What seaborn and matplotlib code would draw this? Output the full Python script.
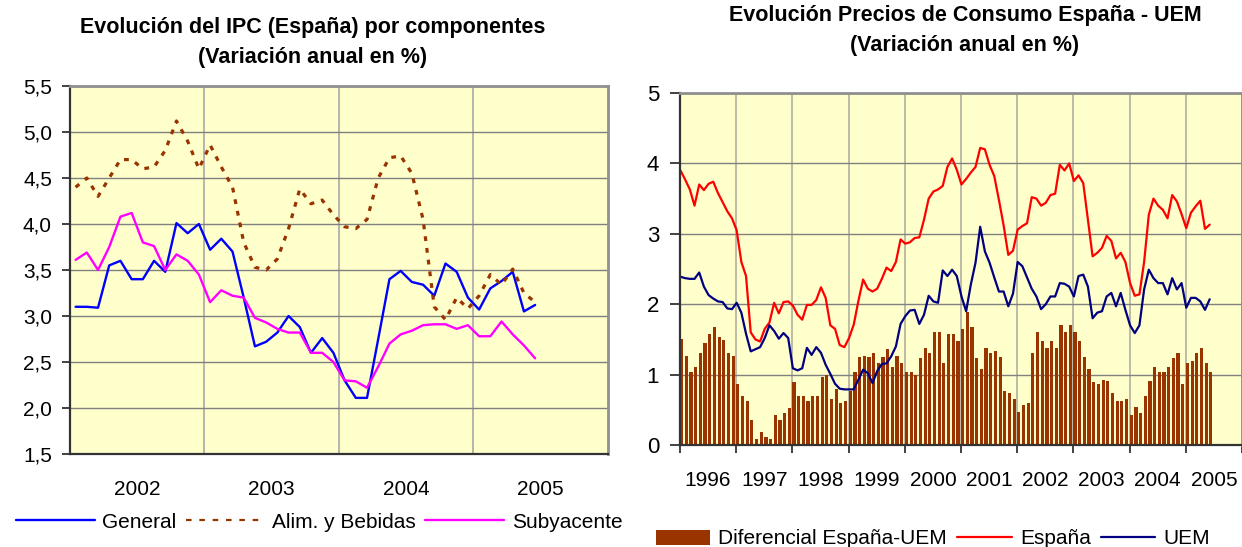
import matplotlib
matplotlib.use("Agg")
import matplotlib.pyplot as plt
import numpy as np
import seaborn as sns
from matplotlib.lines import Line2D
from matplotlib.patches import Patch

sns.set_style("white")
plt.rcParams['font.family'] = ['Liberation Sans', 'DejaVu Sans']
plt.rcParams['text.color'] = 'black'
plt.rcParams['xtick.color'] = 'black'
plt.rcParams['ytick.color'] = 'black'

# ---- left panel: IPC by components, monthly ----
ipc_years = ["2002", "2003", "2004", "2005"]
general = [3.10, 3.10, 3.09, 3.55, 3.60, 3.40, 3.40, 3.60, 3.48, 4.01, 3.90, 4.00,
           3.72, 3.84, 3.70, 3.20, 2.67, 2.72, 2.82, 3.00, 2.88, 2.60, 2.76, 2.60,
           2.30, 2.11, 2.11, 2.75, 3.40, 3.49, 3.37, 3.34, 3.22, 3.57, 3.48, 3.20,
           3.07, 3.30, 3.38, 3.48, 3.05, 3.12]
alim_bebidas = [4.40, 4.50, 4.30, 4.50, 4.70, 4.70, 4.60, 4.62, 4.80, 5.12, 4.90, 4.60,
                4.86, 4.62, 4.40, 3.80, 3.53, 3.50, 3.62, 3.95, 4.38, 4.22, 4.26, 4.10,
                3.97, 3.95, 4.05, 4.50, 4.72, 4.74, 4.55, 4.05, 3.10, 2.96, 3.20, 3.08,
                3.22, 3.45, 3.34, 3.51, 3.25, 3.15]
subyacente = [3.61, 3.69, 3.50, 3.75, 4.08, 4.12, 3.80, 3.76, 3.50, 3.67, 3.60, 3.45,
              3.15, 3.28, 3.22, 3.20, 2.98, 2.93, 2.86, 2.82, 2.82, 2.60, 2.60, 2.50,
              2.30, 2.29, 2.22, 2.45, 2.70, 2.80, 2.84, 2.90, 2.91, 2.91, 2.86, 2.90,
              2.78, 2.78, 2.94, 2.80, 2.68, 2.54]

# ---- right panel: Spain vs EMU, monthly from Jan 1996 ----
uem_years = [str(y) for y in range(1996, 2006)]
espana = [3.90, 3.77, 3.63, 3.40, 3.70, 3.62, 3.71, 3.74, 3.58, 3.45, 3.32, 3.22,
          3.05, 2.60, 2.40, 1.60, 1.50, 1.47, 1.65, 1.74, 2.02, 1.87, 2.03, 2.04,
          1.98, 1.85, 1.78, 1.99, 1.99, 2.06, 2.24, 2.09, 1.70, 1.65, 1.42, 1.39,
          1.52, 1.71, 2.05, 2.35, 2.22, 2.18, 2.22, 2.36, 2.52, 2.47, 2.60, 2.92,
          2.86, 2.88, 2.94, 2.95, 3.20, 3.50, 3.60, 3.63, 3.68, 3.95, 4.07, 3.91,
          3.70, 3.78, 3.87, 3.95, 4.22, 4.20, 3.98, 3.82, 3.48, 3.12, 2.70, 2.76,
          3.06, 3.11, 3.15, 3.52, 3.50, 3.40, 3.44, 3.55, 3.57, 3.98, 3.90, 4.00,
          3.75, 3.83, 3.72, 3.20, 2.68, 2.73, 2.80, 2.97, 2.90, 2.65, 2.73, 2.60,
          2.30, 2.12, 2.14, 2.60, 3.27, 3.50, 3.40, 3.34, 3.22, 3.55, 3.46, 3.28,
          3.08, 3.30, 3.39, 3.47, 3.07, 3.13]
uem = [2.39, 2.37, 2.36, 2.36, 2.45, 2.25, 2.13, 2.08, 2.04, 2.03, 1.94, 1.93,
       2.02, 1.88, 1.58, 1.33, 1.36, 1.39, 1.52, 1.70, 1.62, 1.51, 1.59, 1.52,
       1.09, 1.06, 1.09, 1.38, 1.28, 1.39, 1.31, 1.14, 1.01, 0.87, 0.80, 0.79,
       0.79, 0.79, 0.93, 1.07, 1.02, 0.88, 1.05, 1.15, 1.16, 1.26, 1.40, 1.72,
       1.83, 1.91, 1.92, 1.72, 1.85, 2.12, 2.04, 2.02, 2.48, 2.40, 2.49, 2.40,
       2.11, 1.90, 2.28, 2.59, 3.10, 2.75, 2.59, 2.38, 2.18, 2.18, 1.97, 2.15,
       2.60, 2.54, 2.38, 2.22, 2.11, 1.93, 2.00, 2.11, 2.11, 2.30, 2.29, 2.25,
       2.11, 2.40, 2.42, 2.25, 1.80, 1.88, 1.90, 2.11, 2.16, 1.97, 2.16, 1.92,
       1.70, 1.59, 1.70, 2.21, 2.49, 2.37, 2.30, 2.30, 2.14, 2.37, 2.21, 2.30,
       1.95, 2.09, 2.09, 2.04, 1.92, 2.07]
diferencial = [1.50, 1.27, 1.04, 1.11, 1.31, 1.45, 1.57, 1.68, 1.54, 1.49, 1.31, 1.27,
               0.86, 0.70, 0.63, 0.36, 0.09, 0.18, 0.12, 0.09, 0.43, 0.36, 0.46, 0.52,
               0.89, 0.70, 0.70, 0.63, 0.70, 0.69, 0.97, 1.00, 0.66, 0.80, 0.59, 0.63,
               0.77, 1.04, 1.25, 1.27, 1.25, 1.31, 1.16, 1.25, 1.37, 1.11, 1.27, 1.16,
               1.03, 1.03, 1.00, 1.23, 1.38, 1.31, 1.60, 1.60, 1.16, 1.57, 1.57, 1.48,
               1.65, 1.89, 1.68, 1.23, 1.08, 1.38, 1.31, 1.34, 1.25, 0.77, 0.74, 0.66,
               0.47, 0.57, 0.59, 1.31, 1.60, 1.48, 1.38, 1.48, 1.38, 1.71, 1.61, 1.71,
               1.61, 1.48, 1.25, 1.08, 0.89, 0.86, 0.93, 0.91, 0.74, 0.63, 0.63, 0.66,
               0.43, 0.54, 0.46, 0.69, 0.91, 1.11, 1.04, 1.04, 1.11, 1.23, 1.31, 0.86,
               1.16, 1.20, 1.31, 1.38, 1.16, 1.04]

BG = '#FFFFCC'
BLUE, BROWN, MAGENTA = '#0000FF', '#993300', '#FF00FF'
RED, NAVY = '#FF0000', '#000080'
W, H = 1242, 547
FS = 15

fig = plt.figure(figsize=(W / 100, H / 100), dpi=100)
ax1 = fig.add_axes([70 / W, (H - 454) / H, 538 / W, 368 / H])
ax2 = fig.add_axes([680 / W, (H - 445) / H, 562 / W, 352 / H])


def frame(ax):
    ax.set_facecolor(BG)
    for s in ['left', 'bottom']:
        ax.spines[s].set_color('#333333')
        ax.spines[s].set_linewidth(1.6)
    for s in ['top', 'right']:
        ax.spines[s].set_color('#909090')
        ax.spines[s].set_linewidth(2)
    ax.set_axisbelow(True)


# ---- left chart ----
frame(ax1)
m = np.arange(len(general)) + 0.5
sns.lineplot(x=m, y=general, ax=ax1, color=BLUE, lw=1.7)
sns.lineplot(x=m, y=alim_bebidas, ax=ax1, color=BROWN, lw=2.3, linestyle=(0, (1.5, 2.2)))
sns.lineplot(x=m, y=subyacente, ax=ax1, color=MAGENTA, lw=1.7)
ax1.set_xlim(0, 48)
ax1.set_ylim(1.5, 5.5)
yt = np.arange(1.5, 5.51, 0.5)
ax1.set_yticks(yt, [f"{v:.1f}".replace('.', ',') for v in yt])
ax1.set_xticks([6, 18, 30, 42], ipc_years)
ax1.set_xticks([12, 24, 36], minor=True)
ax1.grid(axis='y', color='#808080', lw=1)
ax1.grid(axis='x', which='minor', color='#a8a8a8', lw=1.2)
ax1.tick_params(axis='x', which='both', length=0, pad=19, labelsize=FS)
ax1.tick_params(axis='y', left=True, length=6, width=1.3, direction='out',
                pad=7, labelsize=FS, color='#333333', labelcolor='black')
ax1.set(xlabel='', ylabel='')

fig.text(313 / W, 1 - 28 / H, "Evolución del IPC (España) por componentes",
         ha='center', va='center', fontsize=15.5, weight='bold', color='black')
fig.text(313 / W, 1 - 57 / H, "(Variación anual en %)",
         ha='center', va='center', fontsize=15.5, weight='bold', color='black')

h_left = [Line2D([], [], color=BLUE, lw=1.7),
          Line2D([], [], color=BROWN, lw=1.6, linestyle=(0, (2.5, 3.5))),
          Line2D([], [], color=MAGENTA, lw=1.7)]
fig.legend(h_left, ['General', 'Alim. y Bebidas', 'Subyacente'], loc='center',
           bbox_to_anchor=(319 / W, 1 - 522 / H), ncol=3, frameon=False,
           fontsize=FS, handlelength=3.8, handletextpad=0.35, columnspacing=0.45,
           labelcolor='black')

# ---- right chart ----
frame(ax2)
k = np.arange(len(diferencial))
sns.barplot(x=k + 0.35, y=diferencial, ax=ax2, native_scale=True, width=0.68,
            color=BROWN, saturation=1, errorbar=None, linewidth=0)
sns.lineplot(x=k + 0.1, y=espana, ax=ax2, color=RED, lw=1.6)
sns.lineplot(x=k + 0.1, y=uem, ax=ax2, color=NAVY, lw=1.6)
ax2.set_xlim(0, 120)
ax2.set_ylim(0, 5)
ax2.set_yticks(range(6), [str(v) for v in range(6)])
ax2.set_xticks([6 + 12 * i for i in range(10)], uem_years)
ax2.set_xticks([12 * i for i in range(11)], minor=True)
ax2.grid(axis='y', color='#808080', lw=1)
ax2.grid(axis='x', which='minor', color='#b0b0a0', lw=1.2)
ax2.tick_params(axis='x', which='major', length=0, pad=19, labelsize=FS)
ax2.tick_params(axis='x', which='minor', bottom=True, length=6, width=1.3,
                direction='out', color='#333333')
ax2.tick_params(axis='y', left=True, length=7, width=1.3, direction='out',
                pad=8, labelsize=FS + 1, color='#333333', labelcolor='black')
ax2.set(xlabel='', ylabel='')

fig.text(965 / W, 1 - 16 / H, "Evolución Precios de Consumo España - UEM",
         ha='center', va='center', fontsize=15.5, weight='bold', color='black')
fig.text(965 / W, 1 - 45 / H, "(Variación anual en %)",
         ha='center', va='center', fontsize=15.5, weight='bold', color='black')

h_right = [Patch(facecolor=BROWN, edgecolor='none'),
           Line2D([], [], color=RED, lw=1.6),
           Line2D([], [], color=NAVY, lw=1.6)]
fig.legend(h_right, ['Diferencial España-UEM', 'España', 'UEM'], loc='center',
           bbox_to_anchor=(933 / W, 1 - 539 / H), ncol=3, frameon=False,
           fontsize=FS, handlelength=2.6, handletextpad=0.4, columnspacing=0.5,
           labelcolor='black')

fig.savefig('out.png', dpi=100, facecolor='white')
